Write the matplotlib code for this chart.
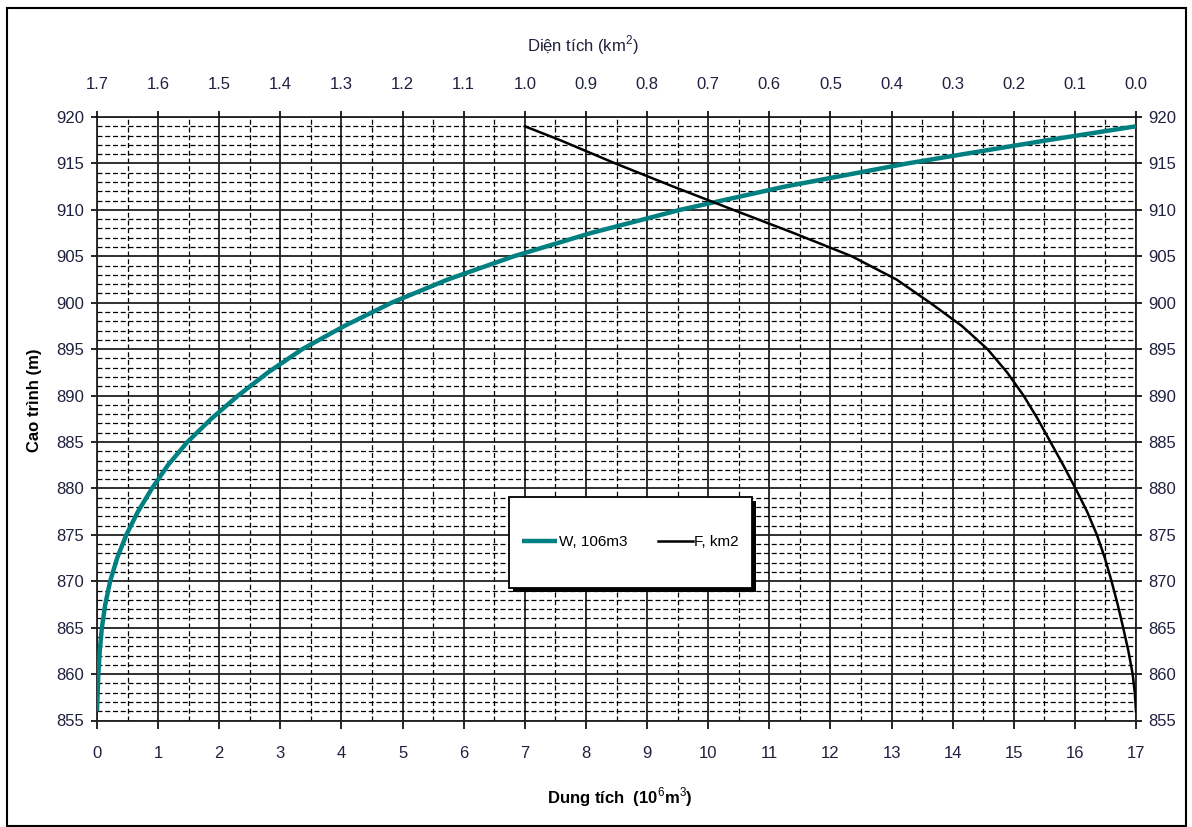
import numpy as np
import matplotlib
matplotlib.use('Agg')
import matplotlib.pyplot as plt
from matplotlib.patches import Rectangle
from matplotlib.ticker import MultipleLocator, FormatStrFormatter

plt.rcParams['font.family'] = ['Liberation Sans', 'DejaVu Sans']
plt.rcParams['mathtext.fontset'] = 'custom'
plt.rcParams['mathtext.rm'] = 'Liberation Sans'
plt.rcParams['mathtext.bf'] = 'Liberation Sans:bold'

# Dung tich W (10^6 m3) theo cao trinh
elev_w = [856, 857.5, 860, 862.5, 865, 867.5, 870, 872.5, 875, 877.5, 880, 882.5,
          885, 887.5, 890, 892.5, 895, 897.5, 900, 902.5, 905, 907.5, 910,
          912.5, 915, 917.5, 919]
volume_w = [0.0, 0.008, 0.022, 0.045, 0.08, 0.135, 0.215, 0.33, 0.48, 0.67, 0.90,
            1.16, 1.48, 1.87, 2.31, 2.80, 3.36, 4.05, 4.82, 5.74, 6.82, 8.08,
            9.54, 11.25, 13.26, 15.55, 17.0]

# Dien tich F (km2) theo cao trinh
elev_f = [856, 858, 860, 862.5, 865, 867.5, 870, 872.5, 875, 877.5, 880, 882.5,
          885, 887.5, 890, 892.5, 895, 897.5, 900, 902.5, 905, 907.5, 910,
          912.5, 915, 917.5, 919]
area_f = [0.0, 0.002, 0.0055, 0.0125, 0.021, 0.030, 0.040, 0.051, 0.064, 0.080,
          0.099, 0.119, 0.140, 0.161, 0.184, 0.211, 0.243, 0.285, 0.337, 0.392,
          0.465, 0.560, 0.659, 0.757, 0.852, 0.942, 1.0]

W, H = 1192, 827
fig = plt.figure(figsize=(W / 100, H / 100), dpi=100)
fig.patch.set_facecolor('white')

# outer border
fig.patches.append(Rectangle((7 / W, 1 - 826 / H), 1179 / W, 818 / H,
                             transform=fig.transFigure, fill=False,
                             edgecolor='black', linewidth=1.5))

left, right, top, bottom = 97, 1136, 117, 720.5
ax = fig.add_axes([left / W, 1 - bottom / H, (right - left) / W, (bottom - top) / H])

tick_color = '#202040'

ax.set_xlim(0, 17)
ax.set_ylim(855, 920)
ax.xaxis.set_major_locator(MultipleLocator(1))
ax.xaxis.set_minor_locator(MultipleLocator(0.5))
ax.yaxis.set_major_locator(MultipleLocator(5))
ax.yaxis.set_minor_locator(MultipleLocator(1))

ax.set_axisbelow(True)
ax.grid(which='major', color='#202020', linewidth=1.3, linestyle='-')
ax.grid(which='minor', color='black', linewidth=0.9, linestyle=(0, (4, 2.2)))

ax.tick_params(which='minor', length=0)
ax.tick_params(axis='x', which='major', direction='out', length=6, width=1.2,
               pad=12, labelsize=12, labelcolor=tick_color)
ax.tick_params(axis='y', which='major', direction='out', length=4, width=1.2,
               pad=5, labelsize=12, labelcolor=tick_color,
               right=True, labelright=True)
for s in ax.spines.values():
    s.set_color('#202020')
    s.set_linewidth(1.3)

# W curve on bottom axis
line_w, = ax.plot(volume_w, elev_w, color='#008080', linewidth=3.2,
                  solid_capstyle='butt', solid_joinstyle='round',
                  label='W, 106m3', zorder=3)

# F curve on the top (reversed) axis
ax_top = ax.twiny()
ax_top.set_xlim(1.7, 0.0)
ax_top.xaxis.set_major_locator(MultipleLocator(0.1))
ax_top.xaxis.set_major_formatter(FormatStrFormatter('%.1f'))
ax_top.tick_params(axis='x', direction='out', length=4, width=1.2, pad=14,
                   labelsize=12, labelcolor=tick_color)
for s in ax_top.spines.values():
    s.set_visible(False)
line_f, = ax_top.plot(area_f, elev_f, color='black', linewidth=1.8,
                      solid_joinstyle='round', label='F, km2', zorder=3)

# legend box with shadow (taller than the entries, as in the original)
box_x0, box_y0, box_w, box_h = 0.3965, 0.2196, 0.2339, 0.1507
shadow_dx, shadow_dy = 4 / 1039, -4 / 603.5
ax_top.add_patch(Rectangle((box_x0 + shadow_dx, box_y0 + shadow_dy), box_w, box_h,
                           transform=ax.transAxes, facecolor='black',
                           edgecolor='none', zorder=4))
ax_top.add_patch(Rectangle((box_x0, box_y0), box_w, box_h,
                           transform=ax.transAxes, facecolor='white',
                           edgecolor='black', linewidth=1.3, zorder=4.5))

leg = ax_top.legend(handles=[line_w, line_f], loc='center',
                    bbox_to_anchor=(box_x0 + box_w / 2, box_y0 + box_h / 2),
                    bbox_transform=ax.transAxes,
                    ncol=2, fontsize=11, frameon=False,
                    handlelength=2.3, handletextpad=0.1, columnspacing=2.0,
                    borderaxespad=0, borderpad=0)
leg.set_zorder(6)

# axis titles
fig.text(35 / W, 1 - 400 / H, 'Cao trình (m)', rotation=90, ha='center',
         va='center', fontsize=12, fontweight='bold')
fig.text(620 / W, 1 - 797 / H, r'Dung tích  (10$^{6}$m$^{3}$)', ha='center',
         va='center', fontsize=12, fontweight='bold')
fig.text(583 / W, 1 - 45 / H, r'Diện tích (km$^{2}$)', ha='center',
         va='center', fontsize=12, color=tick_color)

fig.savefig('out.png', dpi=100, facecolor='white')
